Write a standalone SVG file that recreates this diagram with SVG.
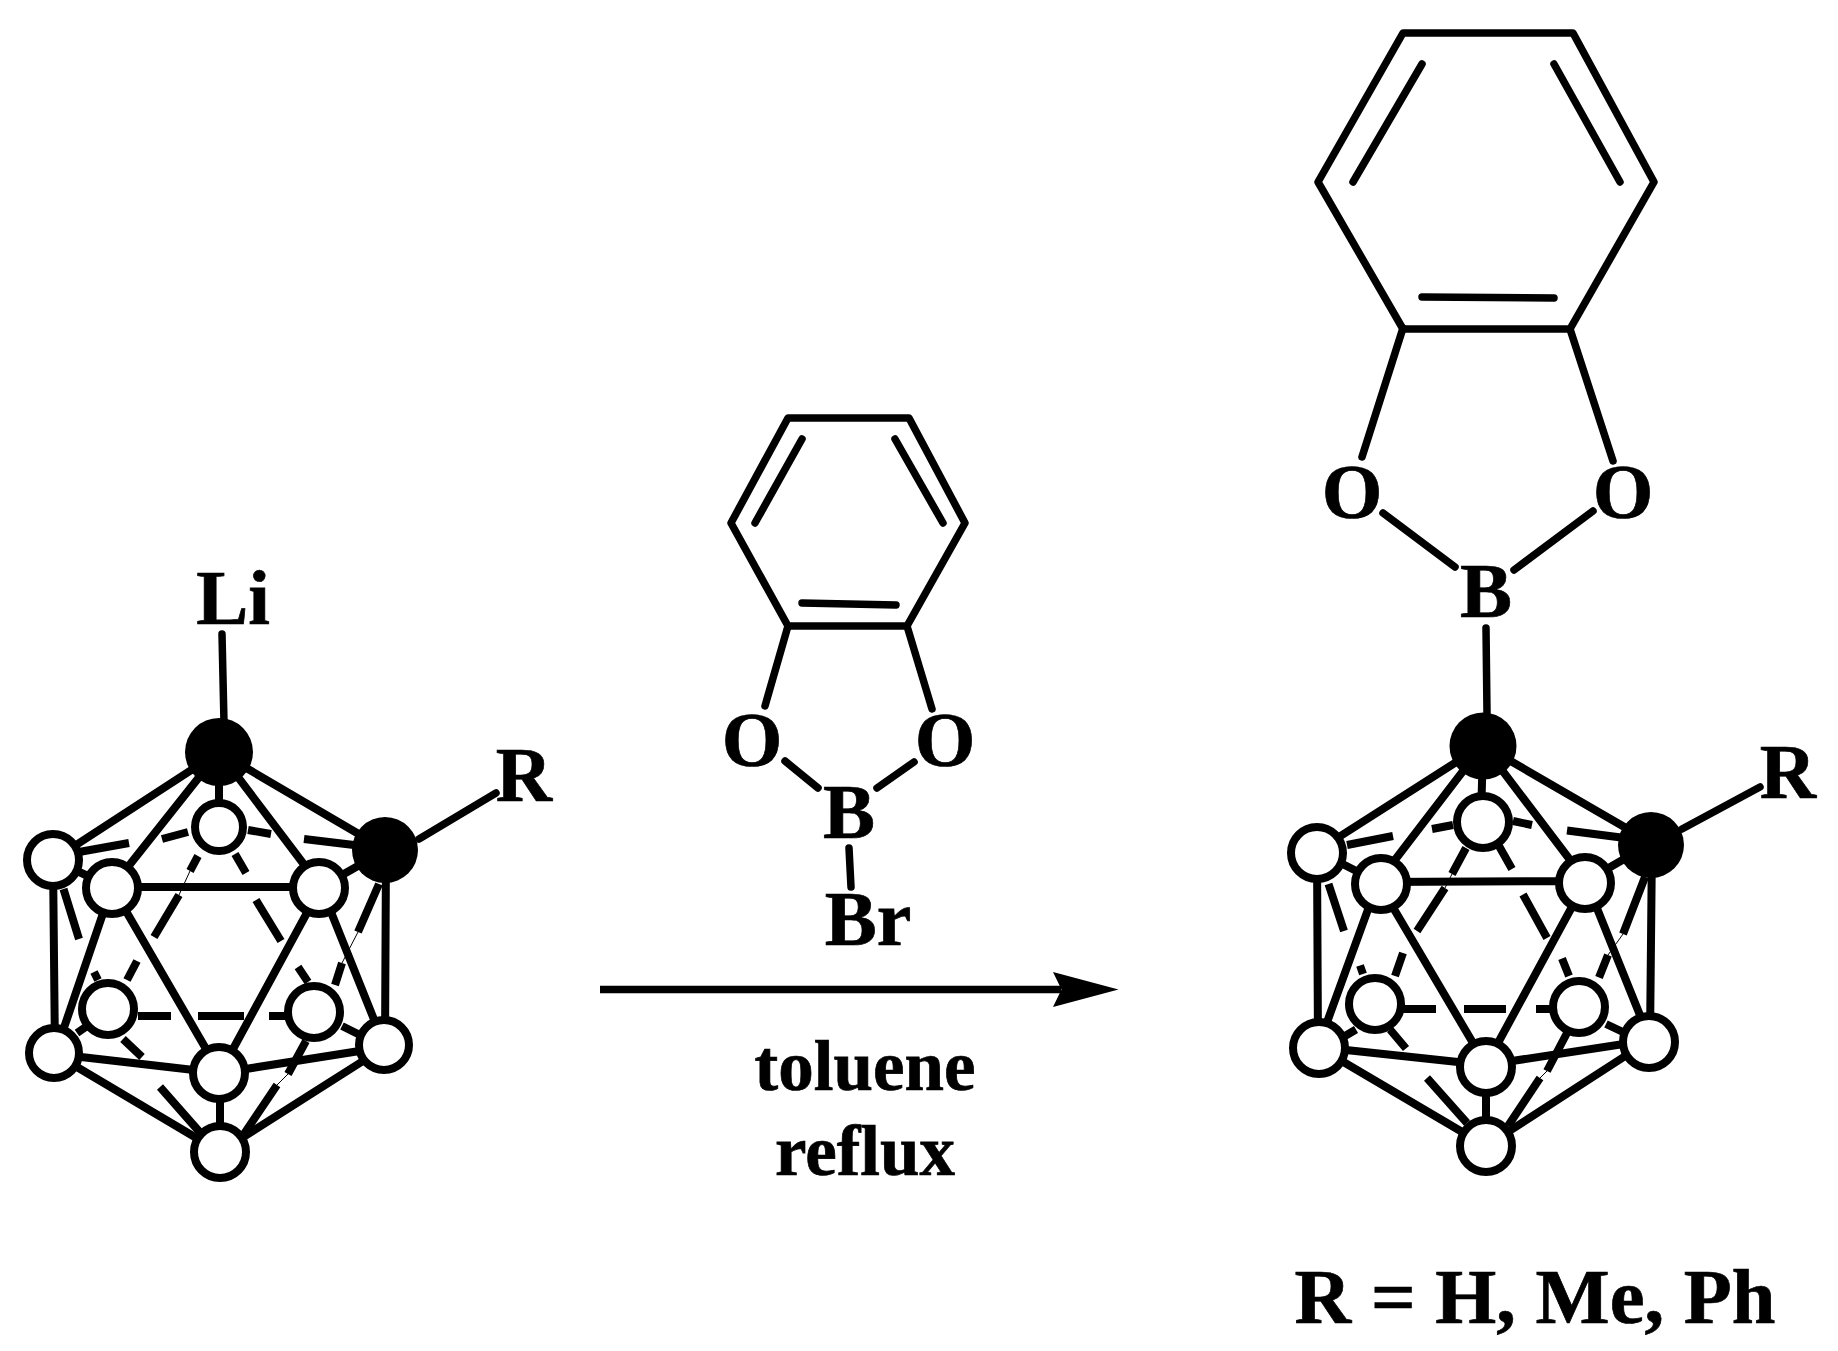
<svg xmlns="http://www.w3.org/2000/svg" width="1838" height="1351" viewBox="0 0 1838 1351">
<style>
.bg{fill:#fff}
.b{stroke:#000;stroke-width:7.5;stroke-linecap:round;stroke-linejoin:round;fill:none}
.f{stroke:#000;stroke-width:8;stroke-linecap:butt;fill:none}
.k{stroke:#000;stroke-width:8;stroke-linecap:butt;fill:none}
.t{stroke:#000;stroke-width:1;fill:none}
.c{fill:#fff;stroke:#000;stroke-width:8}
.d{fill:#000}
text{font-family:"Liberation Serif","Times New Roman",serif;font-weight:bold;fill:#000;stroke:#000;stroke-width:.7;text-anchor:middle}
.l{font-size:78px}
.s{font-size:71px}
.r{font-size:78.5px}
</style>
<defs>
<marker id="ah" markerUnits="userSpaceOnUse" markerWidth="66" markerHeight="36" refX="8" refY="18" orient="auto"><path d="M0,0.5 L65.5,18 L0,35.5 L8.5,18 Z" fill="#000"/></marker>
</defs>
<rect class="bg" width="1838" height="1351"/>
<g id="connectors">
<!-- left cage -->
<g id="left-bonds">
<path class="b" d="M222,634 L224,723 M419,839 L496,793"/>
<path class="f" d="M219,752 L53,860 M219,752 L386,850 M219,752 L112,887 M219,752 L321,887 M219,752 L219,826 M386,850 L321,887 M386,850 L385,1047 M53,860 L55,1054 M53,860 L112,887 M112,887 L321,887 M112,887 L220,1073 M321,887 L220,1073 M112,887 L55,1054 M321,887 L385,1047 M55,1054 L220,1073 M55,1054 L220,1152 M385,1047 L220,1073 M385,1047 L220,1152 M220,1073 L220,1152"/>
<path class="k" d="M79,852 L129,843 M162,839 L188,832 M248,830 L271,834 M304,839 L354,845 M198,856 L190,871 M179,895 L154,937 M137,961 L127,980 M235,854 L246,873 M256,900 L281,941 M298,967 L308,982 M63.5,889 L79,939 M94,972 L98,980 M379,884 L358,932 M342,963 L335,985 M138,1016 L171,1016 M198,1016 L244,1016 M269,1016 L287,1016 M77,1033 L90,1024 M123,1039 L142,1057 M160,1087 L204,1137 M342,1026 L360,1035 M306,1041 L288,1074 M277,1085 L242,1137"/>
<path class="t" d="M190,871 L179,895 M358,932 L342,963 M288,1074 L277,1085"/>
</g>
<!-- reagent -->
<g id="reagent-bonds">
<path class="b" d="M788,418 L909,418 L965,523 L907,626 L788,626 L731,523 Z"/>
<path class="b" d="M802,439 L755,523 M895,439 L943,523 M802,603 L896,605 M788,626 L765,706 M907,626 L932,709 M785,761 L818,788 M914,762 L877,788 M849,848 L851,887"/>
</g>
<!-- arrow -->
<line id="arrow" x1="600" y1="989.5" x2="1061" y2="989.5" stroke="#000" stroke-width="7.4" marker-end="url(#ah)"/>
<!-- product -->
<g id="product-bonds">
<path class="b" d="M1403,33 L1573,33 L1654,182 L1570,329 L1403,329 L1318,182 Z"/>
<path class="b" d="M1422,64 L1353,182 M1554,64 L1620,182 M1422,297 L1554,298 M1403,328 L1362,457 M1570,329 L1613,461 M1383,513 L1455,567 M1593,511 L1514,570 M1486,628 L1487,713 M1682,829 L1760,787"/>
<path class="f" d="M1483,745 L1317,851 M1483,745 L1652,843 M1483,745 L1378,882 M1483,745 L1586,881 M1483,745 L1481,820 M1652,843 L1586,881 M1652,843 L1650,1040 M1317,851 L1318,1047 M1317,851 L1378,882 M1378,882 L1586,881 M1378,882 L1486,1065 M1586,881 L1486,1065 M1378,882 L1318,1047 M1586,881 L1650,1040 M1318,1047 L1486,1065 M1318,1047 L1486,1146 M1650,1040 L1486,1065 M1650,1040 L1486,1146 M1486,1065 L1486,1146"/>
<path class="k" d="M1347,845 L1393,836 M1432,829 L1453,825 M1513,821 L1532,825 M1567,830.5 L1621,837.5 M1466,848 L1452,874 M1445,888 L1417,931 M1403,953 L1395,976 M1499,846 L1512,869 M1523,894.5 L1547,938 M1562,958.5 L1569,976 M1328.5,884 L1344,931 M1360,965.5 L1363,974 M1645,877 L1623,934 M1608,955 L1599,977.5 M1402.6,1009 L1436,1009 M1464,1009 L1506,1009 M1536,1009 L1552.6,1009 M1345,1036 L1356,1029.5 M1390,1029.5 L1406,1048.5 M1427,1078 L1467,1123 M1606,1024 L1625,1033 M1567,1033 L1547,1071 M1540,1078 L1508,1126"/>
<path class="t" d="M1452,874 L1445,888 M1623,934 L1608,955 M1547,1071 L1540,1078"/>
</g>
</g>
<!-- left cage nodes -->
<g id="L-C1"><circle class="d" cx="219" cy="752" r="34"/></g>
<g id="L-C2"><circle class="d" cx="385" cy="850" r="33"/></g>
<g id="L-B1"><circle class="c" cx="219" cy="827" r="24"/></g>
<g id="L-B2"><circle class="c" cx="53" cy="860" r="26"/></g>
<g id="L-B3"><circle class="c" cx="112" cy="888" r="26"/></g>
<g id="L-B4"><circle class="c" cx="319" cy="888" r="26"/></g>
<g id="L-B5"><circle class="c" cx="108" cy="1009" r="26"/></g>
<g id="L-B6"><circle class="c" cx="314" cy="1012" r="26"/></g>
<g id="L-B7"><circle class="c" cx="54" cy="1053" r="25"/></g>
<g id="L-B8"><circle class="c" cx="219" cy="1073" r="26"/></g>
<g id="L-B9"><circle class="c" cx="384" cy="1045" r="25"/></g>
<g id="L-B10"><circle class="c" cx="220" cy="1152" r="26"/></g>
<g id="L-Li"><text class="l" x="233" y="624">Li</text></g>
<g id="L-R"><text class="l" x="524" y="801">R</text></g>
<!-- reagent labels -->
<g id="reagent-O1"><text class="l" x="752" y="766">O</text></g>
<g id="reagent-O2"><text class="l" x="945" y="766">O</text></g>
<g id="reagent-B"><text class="l" x="849" y="838">B</text></g>
<g id="reagent-Br"><text class="l" x="868" y="945">Br</text></g>
<g id="cond-toluene"><text class="s" x="865" y="1090">toluene</text></g>
<g id="cond-reflux"><text class="s" x="865" y="1175">reflux</text></g>
<!-- product nodes -->
<g id="P-C1"><circle class="d" cx="1483" cy="746" r="33.5"/></g>
<g id="P-C2"><circle class="d" cx="1651" cy="845" r="33"/></g>
<g id="P-B1"><circle class="c" cx="1483" cy="822" r="26"/></g>
<g id="P-B2"><circle class="c" cx="1317" cy="853" r="26"/></g>
<g id="P-B3"><circle class="c" cx="1381" cy="884" r="26"/></g>
<g id="P-B4"><circle class="c" cx="1585" cy="883" r="26"/></g>
<g id="P-B5"><circle class="c" cx="1375" cy="1004" r="26"/></g>
<g id="P-B6"><circle class="c" cx="1579" cy="1007" r="26"/></g>
<g id="P-B7"><circle class="c" cx="1319" cy="1048" r="26"/></g>
<g id="P-B8"><circle class="c" cx="1486" cy="1067" r="26"/></g>
<g id="P-B9"><circle class="c" cx="1649" cy="1042" r="26"/></g>
<g id="P-B10"><circle class="c" cx="1486" cy="1146" r="26"/></g>
<g id="P-O1"><text class="l" x="1352" y="518">O</text></g>
<g id="P-O2"><text class="l" x="1623" y="518">O</text></g>
<g id="P-B"><text class="l" x="1486" y="617">B</text></g>
<g id="P-R"><text class="l" x="1788" y="798">R</text></g>
<g id="legend"><text class="r" x="1535" y="1323">R = H, Me, Ph</text></g>
</svg>
